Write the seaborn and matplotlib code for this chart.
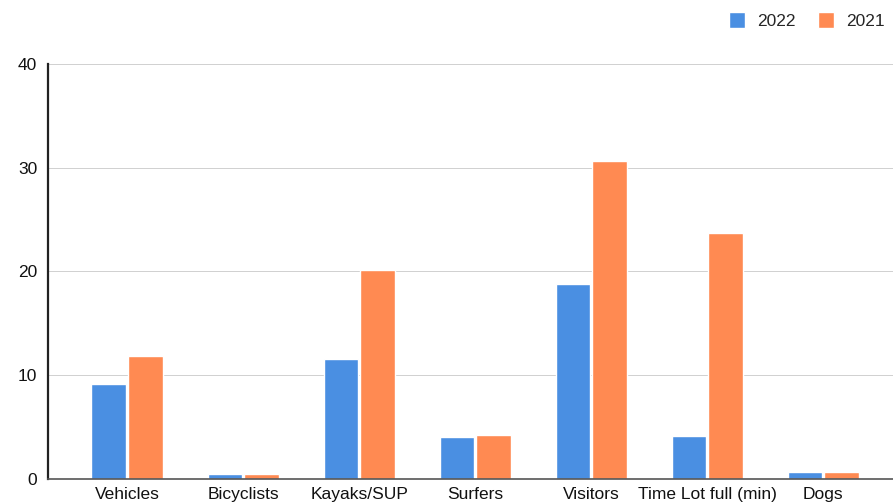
import pandas as pd
import seaborn as sns
import matplotlib.pyplot as plt

# values
categories = ["Vehicles", "Bicyclists", "Kayaks/SUP", "Surfers", "Visitors", "Time Lot full (min)", "Dogs"]
vals_2022 = [9.1, 0.5, 11.6, 4.0, 18.8, 4.1, 0.7]
vals_2021 = [11.8, 0.5, 20.1, 4.2, 30.6, 23.7, 0.7]
years = ["2022", "2021"]

df = pd.DataFrame({
    "category": categories * 2,
    "year": [years[0]] * len(categories) + [years[1]] * len(categories),
    "value": vals_2022 + vals_2021,
})

sns.set_theme(style="white")
plt.rcParams['font.family'] = ['Liberation Sans', 'DejaVu Sans']

fig = plt.figure(figsize=(8.93, 5.04), dpi=100)
ax = fig.add_axes([0.054, 0.05, 0.946, 0.823])

sns.barplot(data=df, x="category", y="value", hue="year", order=categories,
            hue_order=years, palette=["#4A8FE2", "#FF8A52"], width=0.63, gap=0.05,
            saturation=1, ax=ax)

ax.set_xlim(-0.68, 6.6)
ax.set_ylim(0, 40)
ax.set_yticks([0, 10, 20, 30, 40])
ax.set_xlabel("")
ax.set_ylabel("")
ax.yaxis.grid(True, color="#d0d0d0", linewidth=0.7)
ax.set_axisbelow(True)
for s in ["top", "right"]:
    ax.spines[s].set_visible(False)
ax.spines["left"].set_color("#222222")
ax.spines["left"].set_linewidth(1.6)
ax.spines["bottom"].set_color("#555555")
ax.spines["bottom"].set_linewidth(1.2)
ax.tick_params(axis="y", direction="inout", length=10, width=1.4, color="#222222",
               labelsize=12.5, labelcolor="#111111", pad=3)
ax.tick_params(axis="x", length=0, labelsize=12.5, labelcolor="#111111", pad=6)

ax.get_legend().remove()
handles, labels = ax.get_legend_handles_labels()
fig.legend(handles, labels, loc="center right", bbox_to_anchor=(1.0, 0.96), ncol=2, frameon=False,
           fontsize=12.5, handlelength=0.9, handleheight=1.1, columnspacing=1.3, handletextpad=0.7,
           borderaxespad=0.1)

fig.savefig("out.png", dpi=100)
